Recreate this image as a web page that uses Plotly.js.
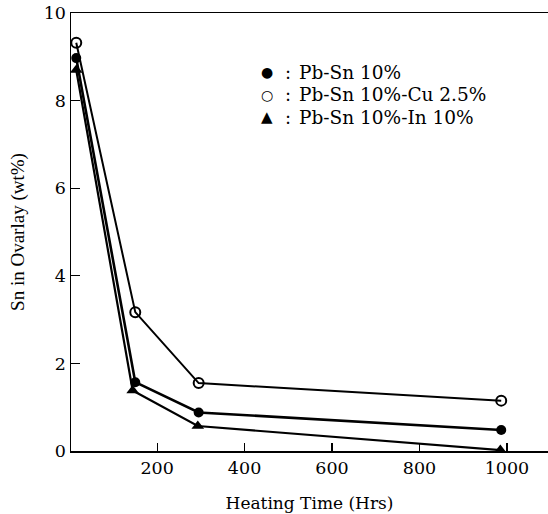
<!DOCTYPE html>
<html>
<head>
<meta charset="utf-8">
<script src="https://cdn.plot.ly/plotly-3.0.1.min.js"></script>
<style>html,body{margin:0;padding:0;background:#fff;}#chart{width:548px;height:514px;}</style>
</head>
<body>
<div id="chart"></div>
<script>
// Heating time (hrs)
const hours = [15, 150, 295, 987];
const hoursIn = [15, 144, 293, 985];
// Sn in overlay (wt%)
const pbSn = [8.97, 1.57, 0.88, 0.48];
const pbSnCu = [9.32, 3.17, 1.55, 1.15];
const pbSnIn = [8.7, 1.38, 0.57, 0.02];
const seriesNames = ['Pb-Sn 10%', 'Pb-Sn 10%-Cu 2.5%', 'Pb-Sn 10%-In 10%'];
const legendSymbols = ['●', '○', '▲'];
const xTicks = [200, 400, 600, 800, 1000];
const yTicks = [0, 2, 4, 6, 8, 10];

const serif = 'Liberation Serif, Times New Roman, serif';
const wide = 'DejaVu Serif, serif';

const traces = [
  {x: hours, y: pbSnCu, name: seriesNames[1], mode: 'lines+markers',
   line: {color: '#000', width: 2},
   marker: {symbol: 'circle-open', size: 10, color: '#000', line: {width: 2, color: '#000'}}},
  {x: hours, y: pbSn, name: seriesNames[0], mode: 'lines+markers',
   line: {color: '#000', width: 2.6},
   marker: {symbol: 'circle', size: 10, color: '#000'}},
  {x: hoursIn, y: pbSnIn, name: seriesNames[2], mode: 'lines+markers',
   line: {color: '#000', width: 2.2},
   marker: {symbol: 'triangle-up', size: 11, color: '#000'}}
];
traces.forEach(t => { t.cliponaxis = false; t.showlegend = false; });

const annotations = [];
seriesNames.forEach((n, i) => {
  const yp = 1 - (72 + i * 22.5 - 13) / 438;
  annotations.push({xref: 'paper', yref: 'paper', x: (267 - 71) / 477, y: yp,
    text: legendSymbols[i], showarrow: false, xanchor: 'center', yanchor: 'middle',
    font: {family: 'DejaVu Sans', size: i === 2 ? 15 : 14, color: '#000'}});
  annotations.push({xref: 'paper', yref: 'paper', x: (288 - 71) / 477, y: yp,
    text: ':', showarrow: false, xanchor: 'center', yanchor: 'middle',
    font: {family: wide, size: 18, color: '#000'}});
  annotations.push({xref: 'paper', yref: 'paper', x: (297 - 71) / 477, y: yp,
    text: n, showarrow: false, xanchor: 'left', yanchor: 'middle',
    font: {family: wide, size: 18.5, color: '#000'}});
});

const layout = {
  width: 548, height: 514,
  margin: {l: 71, r: 0, t: 13, b: 63},
  paper_bgcolor: '#fff', plot_bgcolor: '#fff',
  font: {family: serif, color: '#000'},
  xaxis: {
    range: [3, 1094], tickvals: xTicks, ticks: 'inside', ticklen: 8, tickwidth: 1.2, tickcolor: '#000',
    showline: true, linecolor: '#000', linewidth: 1.5, mirror: true, showgrid: false, zeroline: false,
    tickfont: {family: wide, size: 17.5, color: '#000'},
    title: {text: 'Heating Time (Hrs)', font: {family: wide, size: 17, color: '#000'}, standoff: 20}
  },
  yaxis: {
    range: [0, 10], tickvals: yTicks, ticks: 'inside', ticklen: 9, tickwidth: 1.2, tickcolor: '#000',
    showline: true, linecolor: '#000', linewidth: 1.5, showgrid: false, zeroline: false,
    tickfont: {family: wide, size: 17.5, color: '#000'},
    title: {text: 'Sn in Ovarlay (wt%)', font: {family: serif, size: 19, color: '#000'}, standoff: 14}
  },
  annotations: annotations,
  showlegend: false
};

Plotly.newPlot('chart', traces, layout, {displayModeBar: false, staticPlot: true});
</script>
</body>
</html>
